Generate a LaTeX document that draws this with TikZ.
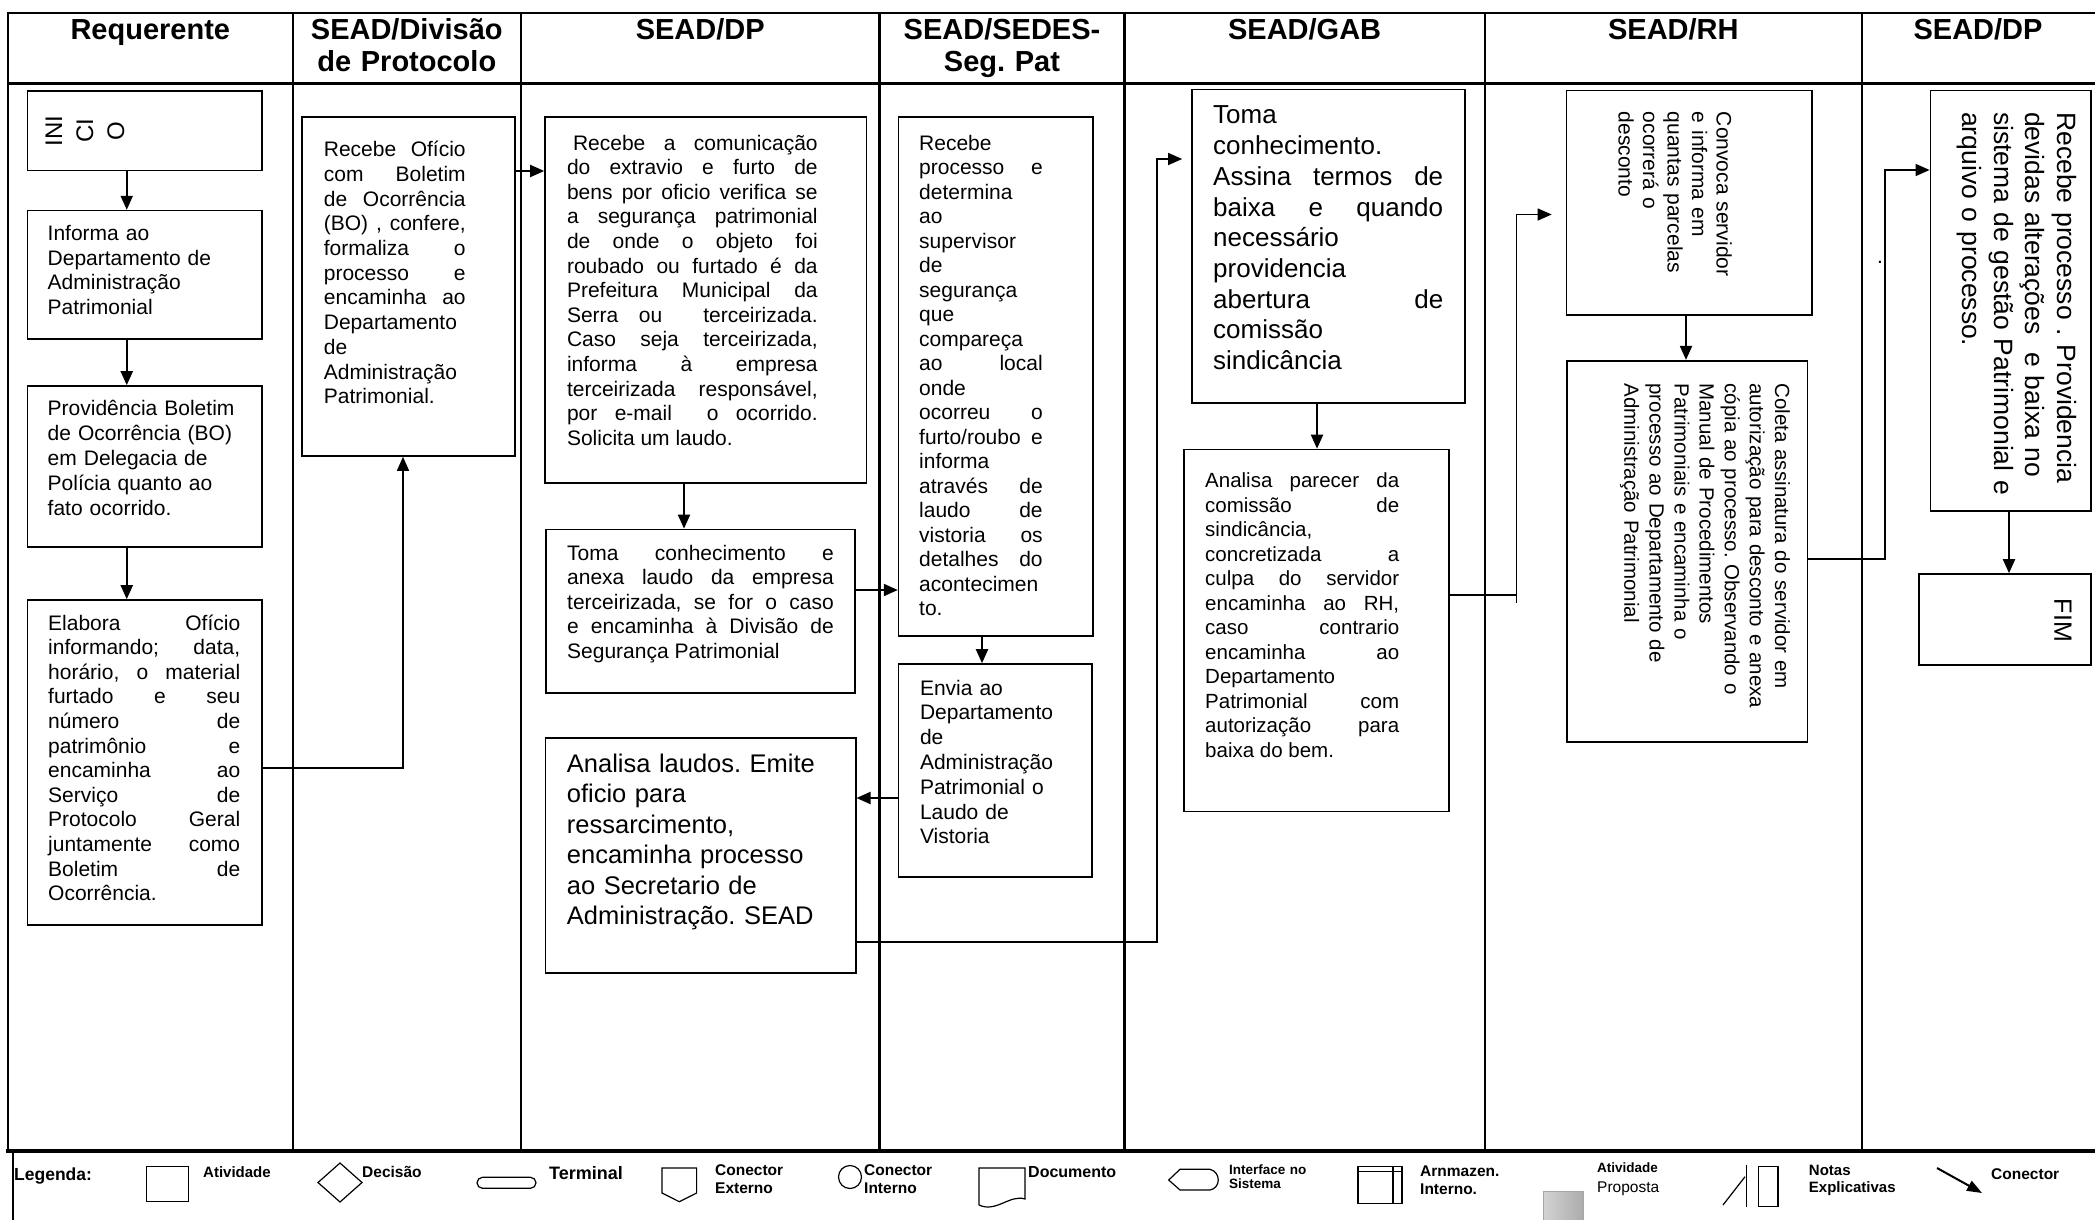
\documentclass[tikz,border=0pt]{standalone}
\usepackage{fontspec}
\setmainfont{Liberation Sans}
\usetikzlibrary{arrows.meta}
\hyphenpenalty=10000
\exhyphenpenalty=10000
\tolerance=10000
\frenchspacing
\newcommand{\tam}[2]{\fontsize{#1}{#2}\selectfont}

\begin{document}
\begin{tikzpicture}[x=1pt,y=-1pt,
    moldura/.style={line width=2.2pt},
    caixa/.style={draw, line width=1.6pt, inner sep=0pt},
    texto/.style={inner sep=0pt, anchor=base west, align=justify},
    seta/.style={line width=2pt, -{Triangle[length=14pt,width=12pt]}},
    longa/.style={line width=1.5pt, -{Triangle[length=14pt,width=12pt]}},
    fio/.style={line width=1.5pt},
    cabeca/.style={inner sep=0pt, anchor=base, text width=240pt, align=center, font=\tam{29}{32}\bfseries},
    rotulo/.style={inner sep=0pt, anchor=base west, text width=120pt, align=left, font=\tam{15.5}{18.5}\bfseries},
    simbolo/.style={line width=1.2pt}]

  \useasboundingbox (0,0) rectangle (2095,1220);

  \draw[moldura] (2095,13) -- (8,13) -- (8,1151);
  \draw[line width=3pt] (8,84) -- (2095,84);
  \draw[line width=4pt] (6,1151) -- (2095,1151);
  \draw[moldura] (13.3,1151) -- (13.3,1222);
  \foreach \xr in {292.7,521,879.4,1124.5,1484.7,1862}
    \draw[moldura] (\xr,13) -- (\xr,1151);

  \node[cabeca] (h1) at (150.3,39.5) {Requerente};
  \node[cabeca] (h2) at (406.8,39.5) {SEAD/Divisão\\de Protocolo};
  \node[cabeca] (h3) at (700.2,39.5) {SEAD/DP};
  \node[cabeca] (h4) at (1002,39.5) {SEAD/SEDES-\\Seg. Pat};
  \node[cabeca] (h5) at (1304.6,39.5) {SEAD/GAB};
  \node[cabeca] (h6) at (1673.3,39.5) {SEAD/RH};
  \node[cabeca] (h7) at (1978,39.5) {SEAD/DP};

  \node[caixa, minimum width=234.5, minimum height=79.5] (inicio) at (144.75,130.75) {};
  \node[inner sep=0pt, rotate=90, align=center, font=\tam{24}{31}] (tinicio) at (85,131) {INI\\CI\\O};

  \node[caixa, minimum width=234.5, minimum height=128.4] (informa) at (144.75,274.8) {};
  \node[texto, align=left, text width=205, font=\tam{21}{24.5}] (tinforma) at (47.5,240.6)
    {Informa ao\\Departamento de\\Administração\\Patrimonial};

  \node[caixa, minimum width=234.5, minimum height=161] (provid) at (144.75,466.5) {};
  \node[texto, align=left, text width=205, font=\tam{21}{25}] (tprovid) at (47.5,415)
    {Providência Boletim\\de Ocorrência (BO)\\em Delegacia de\\Polícia quanto ao\\fato ocorrido.};

  \node[caixa, minimum width=234.5, minimum height=325] (elabora) at (144.75,762.5) {};
  \node[texto, text width=192, font=\tam{21}{24.6}] (telabora) at (48,630)
    {Elabora Ofício\linebreak informando; data,\linebreak horário, o material\linebreak furtado e seu\linebreak
     número de\linebreak patrimônio e\linebreak encaminha ao\linebreak Serviço de\linebreak
     Protocolo Geral\linebreak juntamente como\linebreak Boletim de\linebreak Ocorrência.};

  \node[caixa, minimum width=213, minimum height=339] (protocolo) at (408.5,286.5) {};
  \node[texto, text width=141.8, font=\tam{21}{24.7}] (tprotocolo) at (323.7,156.7)
    {Recebe Ofício\linebreak com Boletim\linebreak de Ocorrência\linebreak (BO) , confere,\linebreak
     formaliza o\linebreak processo e\linebreak encaminha ao\linebreak Departamento\\de\\Administração\\Patrimonial.};

  \node[caixa, minimum width=321.4, minimum height=365.7] (comunica) at (705.7,299.85) {};
  \node[texto, text width=250.7, font=\tam{21}{24.6}] (tcomunica) at (566.8,150)
    {\hspace*{6pt}Recebe a comunicação\linebreak do extravio e furto de\linebreak bens por oficio verifica se\linebreak
     a segurança patrimonial\linebreak de onde o objeto foi\linebreak roubado ou furtado é da\linebreak
     Prefeitura Municipal da\linebreak Serra ou\ \ terceirizada.\linebreak Caso seja terceirizada,\linebreak
     informa à empresa\linebreak terceirizada responsável,\linebreak por e-mail\ \ o ocorrido.\linebreak
     Solicita um laudo.};

  \node[caixa, minimum width=309, minimum height=163.6] (anexa) at (700.5,611.2) {};
  \node[texto, text width=266.6, font=\tam{21}{24.4}] (tanexa) at (567,560.5)
    {Toma conhecimento e\linebreak anexa laudo da empresa\linebreak terceirizada, se for o caso\linebreak
     e encaminha à Divisão de\linebreak Segurança Patrimonial};

  \node[caixa, minimum width=310.2, minimum height=235.3] (analisa) at (700.6,855.35) {};
  \node[texto, align=left, text width=285, font=\tam{25.5}{30.5}] (tanalisa) at (566.7,772.4)
    {Analisa laudos. Emite\\oficio para\\ressarcimento,\\encaminha processo\\ao Secretario de\\Administração. SEAD};

  \node[caixa, minimum width=194.4, minimum height=519] (vistoria) at (995.8,376.5) {};
  \node[texto, text width=123.5, font=\tam{21}{24.5}] (tvistoria) at (919,150)
    {Recebe\\processo e\linebreak determina\\ao\\supervisor\\de\\segurança\\que\\compareça\\ao local\linebreak
     onde\\ocorreu o\linebreak furto/roubo e\linebreak informa\\através de\linebreak laudo de\linebreak
     vistoria os\linebreak detalhes do\linebreak acontecimen\\to.};

  \node[caixa, minimum width=193.4, minimum height=213] (envia) at (995.3,770.5) {};
  \node[texto, align=left, text width=165, font=\tam{21}{24.8}] (tenvia) at (919.8,695)
    {Envia ao\\Departamento\\de\\Administração\\Patrimonial o\\Laudo de\\Vistoria};

  \node[caixa, minimum width=273, minimum height=313.6] (assina) at (1328.5,246.2) {};
  \node[texto, text width=230, font=\tam{26}{30.7}] (tassina) at (1213,124)
    {Toma\\conhecimento.\\Assina termos de\linebreak baixa e quando\linebreak necessário\\providencia\\
     abertura de\linebreak comissão\\sindicância};

  \node[caixa, minimum width=265, minimum height=362] (parecer) at (1316.5,630.5) {};
  \node[texto, text width=194, font=\tam{20.5}{24.5}] (tparecer) at (1205,487.8)
    {Analisa parecer da\linebreak comissão de\linebreak sindicância,\\concretizada a\linebreak
     culpa do servidor\linebreak encaminha ao RH,\linebreak caso contrario\linebreak encaminha ao\linebreak
     Departamento\\Patrimonial com\linebreak autorização para\linebreak baixa do bem.};

  \node[caixa, minimum width=245.5, minimum height=224.3] (convoca) at (1689.25,202.85) {};
  \node[texto, align=left, rotate=-90, text width=190, font=\tam{21}{24.5}] (tconvoca) at (1716.5,111.7)
    {Convoca servidor\\e informa em\\quantas parcelas\\ocorrerá o\\desconto};

  \node[caixa, minimum width=240.6, minimum height=381] (coleta) at (1687,551.2) {};
  \node[texto, align=left, rotate=-90, text width=340, font=\tam{20.5}{25.1}] (tcoleta) at (1775,383.3)
    {Coleta assinatura do servidor em\\autorização para desconto e anexa\\cópia ao processo. Observando o\\
     Manual de Procedimentos\\Patrimoniais e encaminha o\\processo ao Departamento de\\Administração Patrimonial};

  \node[caixa, minimum width=160.6, minimum height=420] (arquiva) at (2010.7,300.7) {};
  \node[texto, align=left, rotate=-90, text width=390, font=\tam{26.5}{31.5}] (tarquiva) at (2057,112)
    {Recebe processo . Providencia\\devidas alterações\ \ e baixa no\\sistema de gestão Patrimonial e\\arquivo o processo.};

  \node[caixa, minimum width=171.7, minimum height=91] (fim) at (2004.85,619.5) {};
  \node[inner sep=0pt, rotate=-90, font=\tam{25}{25}] (tfim) at (2063,620.5) {FIM};

  \node[inner sep=0pt, font=\tam{21}{24}] (ponto) at (1880,262) {.};

  \draw[seta] ([xshift=-18pt]inicio.south) -- ([xshift=-18pt]informa.north);
  \draw[seta] ([xshift=-18pt]informa.south) -- ([xshift=-18pt]provid.north);
  \draw[seta] ([xshift=-18pt]provid.south) -- ([xshift=-18pt]elabora.north);
  \draw[longa] (elabora.east |- 0,768) -| (protocolo.south -| 403,0);
  \draw[seta] (protocolo.east |- 0,171) -- (comunica.west |- 0,171);
  \draw[seta] (comunica.south -| 684,0) -- (anexa.north -| 684,0);
  \draw[seta] (anexa.east |- 0,590) -- (vistoria.west |- 0,590);
  \draw[seta] (vistoria.south -| 982,0) -- (envia.north -| 982,0);
  \draw[seta] (envia.west |- 0,798) -- (analisa.east |- 0,798);
  \draw[longa, shorten >=9pt] (analisa.east |- 0,942) -| (1157,159) -- (assina.west |- 0,159);
  \draw[seta] (assina.south -| 1317,0) -- (parecer.north -| 1317,0);
  \draw[fio] (parecer.east |- 0,595) -- (1516.7,595);
  \draw[longa, shorten >=14pt] (1516.7,603) |- (convoca.west |- 0,214.5);
  \draw[seta] (convoca.south -| 1686,0) -- (coleta.north -| 1686,0);
  \draw[longa] (coleta.east |- 0,559) -| (1885,170) -- (arquiva.west |- 0,170);
  \draw[seta] (arquiva.south -| 2009,0) -- (fim.north -| 2009,0);

  \node[rotulo, font=\tam{17.5}{17}\bfseries] (legenda) at (14,1180) {Legenda:};
  \draw[simbolo] (146.7,1166.7) rectangle (188.3,1201.7);
  \node[rotulo, font=\tam{15}{15}\bfseries] (latividade) at (203,1177) {Atividade};
  \draw[simbolo] (340,1163) -- (362,1182.5) -- (340,1202) -- (318,1182.5) -- cycle;
  \node[rotulo, font=\tam{15.5}{15}\bfseries] (ldecisao) at (362,1177) {Decisão};
  \draw[simbolo, rounded corners=5.5pt] (477,1177.3) rectangle (536,1188.3);
  \node[rotulo, font=\tam{18}{17}\bfseries] (lterminal) at (549,1179) {Terminal};
  \draw[simbolo] (662,1168) -- (696.6,1168) -- (696.6,1193) -- (679.3,1201.7) -- (662,1193) -- cycle;
  \node[rotulo] (lexterno) at (715,1175) {Conector\\Externo};
  \draw[simbolo] (850,1177) circle[radius=11.5pt];
  \node[rotulo] (linterno) at (864,1175) {Conector\\Interno};
  \draw[simbolo] (979,1205) -- (979,1168) -- (1025,1168) -- (1025,1199)
    .. controls (1010,1194) and (996,1213) .. (979,1205);
  \node[rotulo, font=\tam{16}{15}\bfseries] (ldocumento) at (1028,1177) {Documento};
  \draw[simbolo] (1180,1169.3) -- (1210,1169.3) .. controls (1221,1172) and (1221,1188) .. (1210,1190)
    -- (1180,1190) -- (1168.7,1180) -- cycle;
  \node[rotulo, font=\tam{13.5}{14.5}\bfseries] (linterface) at (1229,1174) {Interface no\\Sistema};
  \draw[simbolo] (1358,1166.7) rectangle (1402,1203.3);
  \draw[simbolo] (1358,1171.7) -- (1402,1171.7);
  \draw[simbolo] (1393,1166.7) -- (1393,1203.3);
  \node[rotulo, font=\tam{15.5}{18.5}\bfseries] (larmazen) at (1420,1176) {Arnmazen.\\Interno.};
  \shadedraw[left color=gray!35, right color=gray!65, draw=gray!70, line width=1pt] (1543,1191.7) rectangle (1583,1226);
  \node[rotulo, font=\tam{13.5}{12.5}\bfseries] (lproposta) at (1597,1172) {Atividade};
  \node[rotulo, font=\tam{15.5}{15.5}\mdseries] (lproposta2) at (1597,1192) {Proposta};
  \draw[simbolo] (1723,1205) -- (1745,1176.7);
  \draw[simbolo] (1746.7,1165) -- (1746.7,1206.7);
  \draw[simbolo] (1758.7,1166.7) rectangle (1778,1206.7);
  \node[rotulo, font=\tam{15}{17.5}\bfseries] (lnotas) at (1808.7,1175) {Notas\\Explicativas};
  \draw[line width=2pt, -{Triangle[length=15pt,width=11pt]}] (1937,1168) -- (1982,1193);
  \node[rotulo, font=\tam{15.5}{15}\bfseries] (lconector) at (1991,1179) {Conector};
\end{tikzpicture}
\end{document}
